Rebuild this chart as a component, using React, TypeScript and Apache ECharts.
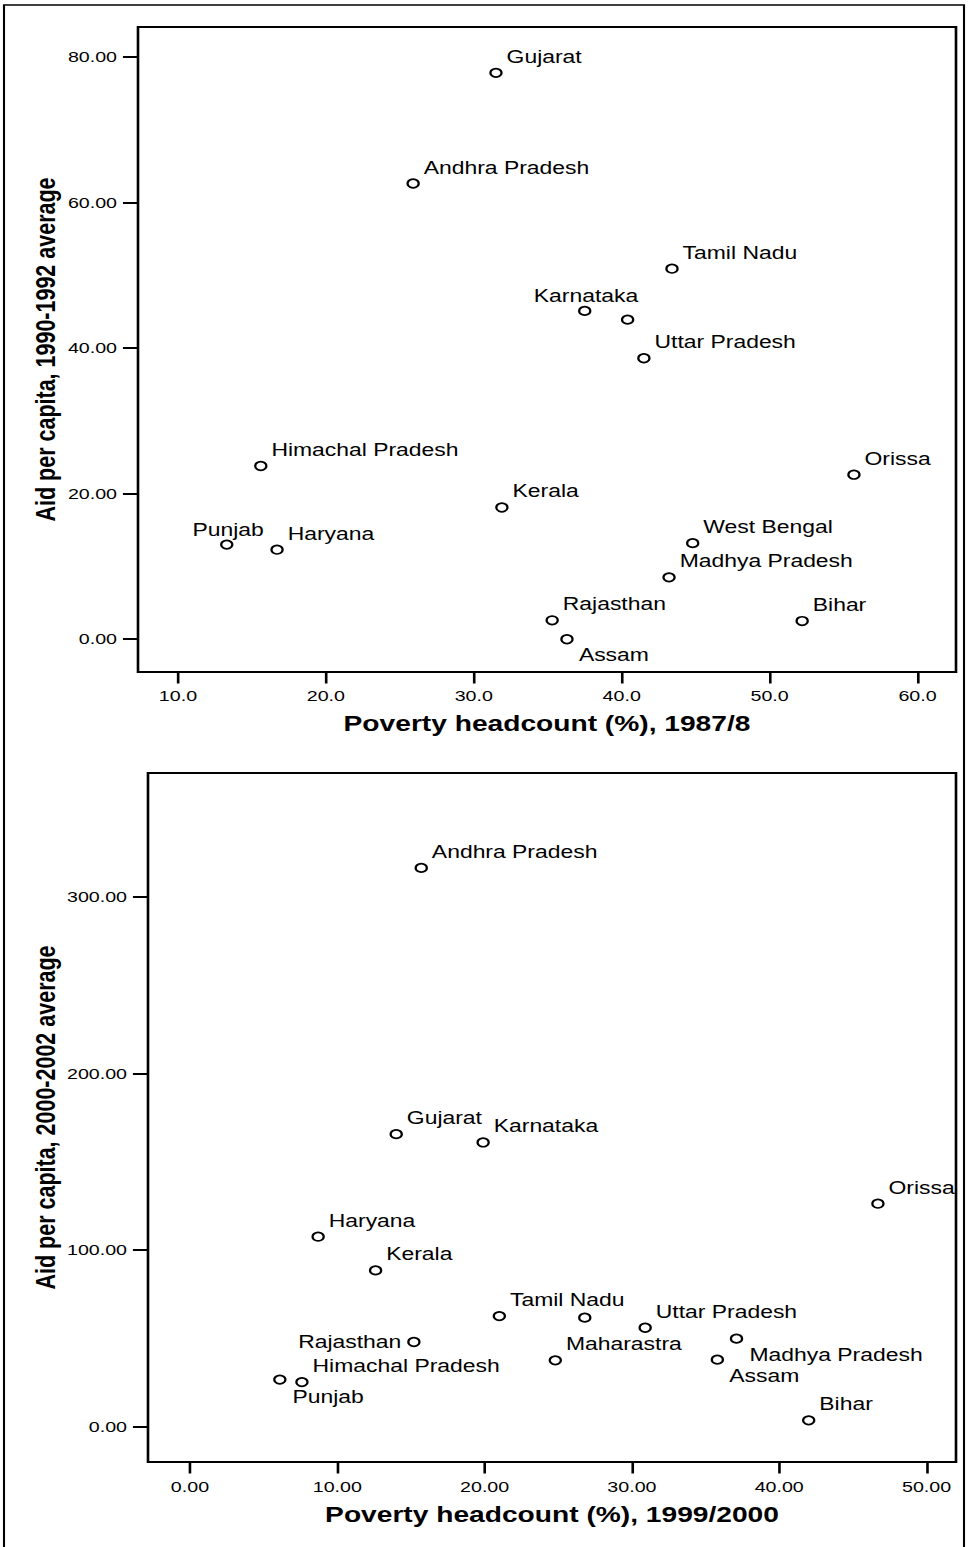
import React, { useEffect, useRef } from "react";
import * as echarts from "echarts";

// ---------- Data: chart 1 (1987/8 vs 1990-1992) ----------
const states1 = [
  "Gujarat", "Andhra Pradesh", "Tamil Nadu", "Karnataka", "Maharashtra",
  "Uttar Pradesh", "Himachal Pradesh", "Orissa", "Kerala", "Punjab",
  "Haryana", "West Bengal", "Madhya Pradesh", "Rajasthan", "Bihar", "Assam",
];
const poverty1987 = [31.5, 25.9, 43.4, 37.5, 40.4, 41.5, 15.6, 55.7, 31.9, 13.3, 16.7, 44.8, 43.2, 35.3, 52.2, 36.3];
const aid1990 = [77.8, 62.6, 50.9, 45.1, 43.9, 38.6, 23.8, 22.6, 18.1, 13.0, 12.3, 13.2, 8.5, 2.6, 2.5, 0.0];
const xTicks1 = [10, 20, 30, 40, 50, 60];
const yTicks1 = [0, 20, 40, 60, 80];

// ---------- Data: chart 2 (1999/2000 vs 2000-2002) ----------
const states2 = [
  "Andhra Pradesh", "Gujarat", "Karnataka", "Orissa", "Haryana", "Kerala",
  "Tamil Nadu", "West Bengal", "Uttar Pradesh", "Rajasthan", "Madhya Pradesh",
  "Maharastra", "Assam", "Punjab", "Himachal Pradesh", "Bihar",
];
const poverty1999 = [15.7, 14.0, 19.9, 46.7, 8.7, 12.6, 21.0, 26.8, 30.9, 15.2, 37.1, 24.8, 35.8, 6.1, 7.6, 42.0];
const aid2000 = [316.5, 165.6, 160.9, 126.2, 107.5, 88.4, 62.5, 61.6, 55.9, 47.8, 49.7, 37.4, 37.8, 26.5, 25.1, 3.4];
const xTicks2 = [0, 10, 20, 30, 40, 50];
const yTicks2 = [0, 100, 200, 300];

// ---------- Layout / style ----------
const S = 1.31; // the reference is horizontally stretched
const OUT_W = 968;
const H = 1547;
const W = OUT_W / S;
const F = "'Liberation Sans', Arial, Helvetica, sans-serif";

const defaultLabel = {
  show: true,
  position: "right",
  distance: 3,
  offset: [0, -16],
  formatter: "{b}",
  fontFamily: F,
  fontSize: 17.5,
  color: "#000",
};

const labelOverrides1: Record<string, any> = {
  Punjab: { position: "inside", offset: [1, -15] },
  Karnataka: { position: "inside", offset: [1, -15] },
  Assam: { position: "right", distance: 4, offset: [0, 16] },
  Maharashtra: { show: false },
};

const labelOverrides2: Record<string, any> = {
  Rajasthan: { position: "left", distance: 4.5, offset: [0, 0] },
  "Madhya Pradesh": { position: "right", distance: 4.8, offset: [0, 16] },
  Assam: { position: "right", distance: 4, offset: [0, 16] },
  Punjab: { position: "right", distance: 4.5, offset: [0, 17] },
  "West Bengal": { show: false },
};

function buildData(names: string[], xs: number[], ys: number[], over: Record<string, any>) {
  return names.map((n, i) => ({
    name: n,
    value: [xs[i], ys[i]],
    label: { ...defaultLabel, ...(over[n] || {}) },
  }));
}

function xAxisCfg(grid: number, min: number, max: number, ticks: number[], dec: number, name: string, margin: number, gap: number) {
  return {
    type: "value",
    gridIndex: grid,
    position: "bottom",
    min,
    max,
    name,
    nameLocation: "middle",
    nameGap: gap,
    nameMoveOverlap: false,
    nameTextStyle: { fontFamily: F, fontWeight: "bold", fontSize: 21.5, color: "#000" },
    axisLine: { show: false, onZero: false },
    splitLine: { show: false },
    axisTick: { show: true, inside: false, length: 11.5, lineStyle: { color: "#000", width: 2 }, customValues: ticks },
    axisLabel: {
      show: true,
      margin,
      fontFamily: F,
      fontSize: 15,
      color: "#000",
      customValues: ticks,
      formatter: (v: number) => v.toFixed(dec),
    },
  };
}

function yAxisCfg(grid: number, min: number, max: number, ticks: number[], name: string, gap: number) {
  return {
    type: "value",
    gridIndex: grid,
    position: "left",
    min,
    max,
    name,
    nameLocation: "middle",
    nameGap: gap,
    nameRotate: 90,
    nameMoveOverlap: false,
    nameTextStyle: { fontFamily: F, fontWeight: "bold", fontSize: 21.5, color: "#000" },
    axisLine: { show: false, onZero: false },
    splitLine: { show: false },
    axisTick: { show: true, inside: false, length: 11.5, lineStyle: { color: "#000", width: 2 }, customValues: ticks },
    axisLabel: {
      show: true,
      margin: 16,
      fontFamily: F,
      fontSize: 15,
      color: "#000",
      customValues: ticks,
      formatter: (v: number) => v.toFixed(2),
    },
  };
}

export default function App() {
  const ref = useRef<HTMLDivElement>(null);

  useEffect(() => {
    if (!ref.current) return;
    const chart = echarts.init(ref.current, undefined, { renderer: "svg" });
    const scatterStyle = {
      type: "scatter",
      symbol: "circle",
      symbolSize: 8.5,
      itemStyle: { color: "#fff", borderColor: "#000", borderWidth: 1.7, opacity: 1 },
      emphasis: { disabled: true },
    };
    chart.setOption({
      animation: false,
      backgroundColor: "#fff",
      graphic: [
        {
          type: "rect",
          shape: { x: 4 / S, y: 5, width: (964 - 4) / S, height: 1600 },
          style: { fill: "none", stroke: "#000", lineWidth: 1.6 },
          silent: true,
        },
      ],
      grid: [
        {
          left: 138 / S,
          top: 27,
          width: (956 - 138) / S,
          height: 645,
          show: true,
          borderColor: "#000",
          borderWidth: 2,
          backgroundColor: "transparent",
          containLabel: false,
          outerBoundsMode: "none",
        },
        {
          left: 148 / S,
          top: 773,
          width: (956 - 148) / S,
          height: 689,
          show: true,
          borderColor: "#000",
          borderWidth: 2,
          backgroundColor: "transparent",
          containLabel: false,
          outerBoundsMode: "none",
        },
      ],
      xAxis: [
        xAxisCfg(0, 7.3, 62.6, xTicks1, 1, "Poverty headcount (%), 1987/8", 16, 40),
        xAxisCfg(1, -2.85, 52.0, xTicks2, 2, "Poverty headcount (%), 1999/2000", 17, 41),
      ],
      yAxis: [
        yAxisCfg(0, -4.5, 84.1, yTicks1, "Aid per capita, 1990-1992 average", 60),
        yAxisCfg(1, -20.2, 370.3, yTicks2, "Aid per capita, 2000-2002 average", 67.6),
      ],
      series: [
        {
          ...scatterStyle,
          xAxisIndex: 0,
          yAxisIndex: 0,
          data: buildData(states1, poverty1987, aid1990, labelOverrides1),
        },
        {
          ...scatterStyle,
          xAxisIndex: 1,
          yAxisIndex: 1,
          data: buildData(states2, poverty1999, aid2000, labelOverrides2),
        },
      ],
    });
    return () => chart.dispose();
  }, []);

  return (
    <div style={{ position: "absolute", left: 0, top: 0, width: OUT_W, height: H, overflow: "hidden", background: "#fff" }}>
      <div
        ref={ref}
        style={{ width: W, height: H, transform: `scaleX(${S})`, transformOrigin: "0 0" }}
      />
    </div>
  );
}
